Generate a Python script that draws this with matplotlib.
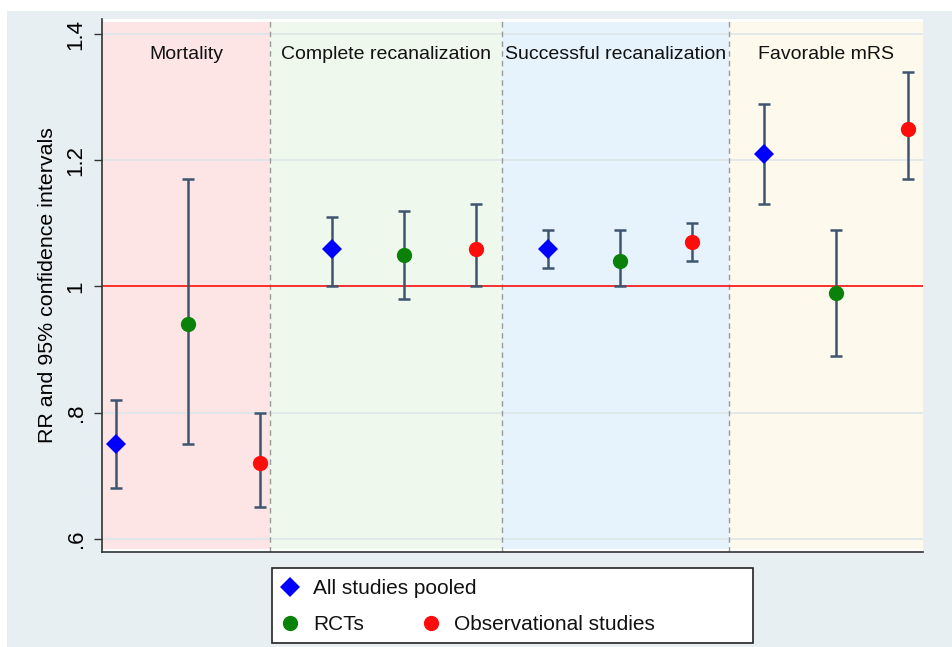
import matplotlib.pyplot as plt
from matplotlib.lines import Line2D
from matplotlib.patches import Rectangle

plt.rcParams['font.family'] = ['Liberation Sans', 'DejaVu Sans']

# outcome groups and the three estimates inside each one
outcomes = ["Mortality", "Complete recanalization", "Successful recanalization", "Favorable mRS"]
group_edges = [0.806, 3.139, 6.368, 9.514, 12.208]

pooled_rr = [0.75, 1.06, 1.06, 1.21]
pooled_lo = [0.68, 1.00, 1.03, 1.13]
pooled_hi = [0.82, 1.11, 1.09, 1.29]

rct_rr = [0.94, 1.05, 1.04, 0.99]
rct_lo = [0.75, 0.98, 1.00, 0.89]
rct_hi = [1.17, 1.12, 1.09, 1.09]

obs_rr = [0.72, 1.06, 1.07, 1.25]
obs_lo = [0.65, 1.00, 1.04, 1.17]
obs_hi = [0.80, 1.13, 1.10, 1.34]

yticks = [0.6, 0.8, 1.0, 1.2, 1.4]
ytick_labels = [".6", ".8", "1", "1.2", "1.4"]

band_colors = ["#fde5e5", "#eff8ec", "#e7f3fc", "#fdf9ec"]
bar_color = "#3e5570"
W, H = 953, 647

fig = plt.figure(figsize=(W / 100, H / 100), dpi=100)
fig.patch.set_facecolor("white")
fig.add_artist(Rectangle((7 / W, 0), 1 - 7 / W, (H - 11) / H,
                         transform=fig.transFigure, facecolor="#e8eff3",
                         edgecolor="none", zorder=-10))

ax = fig.add_axes([102 / W, 95 / H, 821 / W, 533 / H])
ax.set_facecolor("white")
ax.set_xlim(group_edges[0], group_edges[-1])
ax.set_ylim(0.579, 1.424)

# shaded band per outcome
for i, name in enumerate(outcomes):
    ax.fill_between([group_edges[i], group_edges[i + 1]], 0.583, 1.419,
                    color=band_colors[i], lw=0, zorder=0)
    ax.text((group_edges[i] + group_edges[i + 1]) / 2, 1.367, name,
            ha="center", va="center", fontsize=14, color="#111111")
for x in group_edges[1:-1]:
    ax.axvline(x, color="#9a9a9a", lw=1, ls=(0, (4, 3)), zorder=1)

ax.set_yticks(yticks)
ax.set_yticklabels(ytick_labels, rotation=90, va="center", fontsize=16)
ax.grid(axis="y", color="#dde6e8", lw=1.2, zorder=0.5)
ax.set_axisbelow(True)
ax.axhline(1.0, color="#ff1010", lw=1.2, zorder=2)

ax.set_xticks([])
ax.tick_params(axis="y", length=6, width=1, color="#333333", pad=5)
for side in ["top", "right"]:
    ax.spines[side].set_visible(False)
for side in ["left", "bottom"]:
    ax.spines[side].set_color("#333333")
    ax.spines[side].set_linewidth(1.2)

ax.set_ylabel("RR and 95% confidence intervals", fontsize=15.4, labelpad=6)

series = [
    (pooled_rr, pooled_lo, pooled_hi, "D", "#0000ff", 10, 0),
    (rct_rr, rct_lo, rct_hi, "o", "#0a820a", 11, 1),
    (obs_rr, obs_lo, obs_hi, "o", "#ff0d0d", 11, 2),
]
for rr, lo, hi, mk, col, ms, off in series:
    xs = [1 + 3 * g + off for g in range(len(rr))]
    yerr = [[r - l for r, l in zip(rr, lo)], [h - r for r, h in zip(rr, hi)]]
    ax.errorbar(xs, rr, yerr=yerr, fmt="none", ecolor=bar_color,
                elinewidth=1.8, capsize=4.3, capthick=1.8, zorder=3)
    ax.plot(xs, rr, ls="none", marker=mk, color=col, markersize=ms,
            markeredgewidth=0, zorder=4)

# legend box; the first label runs past the second key column
fig.add_artist(Rectangle((272 / W, (H - 643) / H), 481 / W, 75 / H,
                         transform=fig.transFigure, facecolor="white",
                         edgecolor="#222222", lw=1.2, zorder=5))
legend_items = [
    ("All studies pooled", "D", "#0000ff", 10, 290, 587),
    ("RCTs", "o", "#0a820a", 11, 290, 623),
    ("Observational studies", "o", "#ff0d0d", 11, 431, 623),
]
for label, mk, col, ms, px, py in legend_items:
    fig.add_artist(Line2D([px / W], [(H - py) / H], transform=fig.transFigure,
                          ls="none", marker=mk, color=col, markersize=ms,
                          markeredgewidth=0, zorder=6))
    fig.text((px + 23) / W, (H - py - 2) / H, label, fontsize=15,
             ha="left", va="center", color="#111111", zorder=6)

fig.savefig("out.png", dpi=100)
